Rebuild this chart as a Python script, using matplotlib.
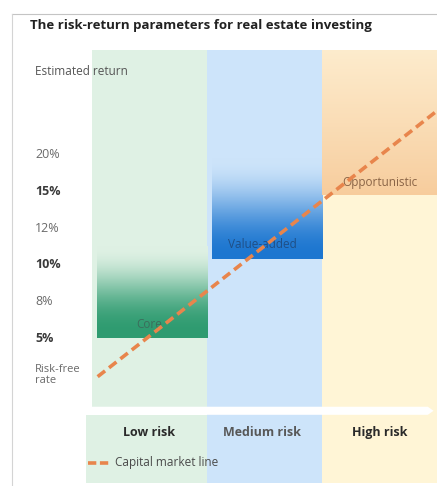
import matplotlib.pyplot as plt
import numpy as np
from matplotlib.colors import to_rgb
from matplotlib.lines import Line2D
from matplotlib.patches import Polygon

plt.rcParams['font.family'] = ['Open Sans', 'DejaVu Sans']

# risk columns and the return scale (one level per label, risk-free rate at 0)
risk_bands = ["Low risk", "Medium risk", "High risk"]
band_colors = ["#dff1e4", "#cde4fa", "#fff5d6"]
return_labels = ["Risk-free\nrate", "5%", "8%", "10%", "12%", "15%", "20%"]
return_bold = [False, True, False, True, False, True, False]
return_levels = [0, 1, 2, 3, 4, 5, 6]

# strategy boxes: floor level, level where the shading has faded out
strategies = ["Core", "Value-added", "Opportunistic"]
strategy_floor = [1.0, 3.15, 4.9]
strategy_fade = [3.5, 5.9, 8.86]
strategy_dark = ["#2e9b70", "#1c76d0", "#f7cc9c"]
strategy_light = ["#dff1e4", "#cde4fa", "#fdeccd"]
strategy_ease = [1.3, 1.1, 0.9]
strategy_text = ["#3b6e5c", "#1f4f86", "#8a6446"]
strategy_label_y = [1.36, 3.55, 5.24]

# capital market line (risk, return level)
cml_risk = [0.05, 3.0]
cml_return = [-0.05, 7.2]

Y_TOP, Y_BOT = 8.86, -2.95
GAP_HI, GAP_LO = -0.87, -1.09

fig = plt.figure(figsize=(4.37, 4.86), dpi=100)
ax = fig.add_axes([85 / 437, 3 / 486, 352 / 437, 433 / 486])
ax.axis("off")

# column backgrounds
for i, c in enumerate(band_colors):
    if i == 0:
        ax.bar(i + 0.5, Y_TOP - GAP_HI, bottom=GAP_HI, width=1, color=c, lw=0)
        ax.bar(i + 0.475, GAP_LO - Y_BOT, bottom=Y_BOT, width=1.05, color=c, lw=0)
    else:
        ax.bar(i + 0.5, Y_TOP - Y_BOT, bottom=Y_BOT, width=1, color=c, lw=0)

# white risk arrow separating the chart from the column captions
arrow = Polygon([(-0.06, GAP_LO), (2.92, GAP_LO), (2.97, (GAP_LO + GAP_HI) / 2),
                 (2.92, GAP_HI), (-0.06, GAP_HI)], closed=True, color="white", lw=0)
ax.add_patch(arrow)

# strategy boxes with vertical fade
n = 200
for i, name in enumerate(strategies):
    t = np.linspace(0, 1, n)
    t = np.sin(t * np.pi / 2) ** 2 if i < 2 else t ** strategy_ease[i]
    t = t ** strategy_ease[i] if i < 2 else t
    dark = np.array(to_rgb(strategy_dark[i]))
    light = np.array(to_rgb(strategy_light[i]))
    grad = dark[None, :] * (1 - t[:, None]) + light[None, :] * t[:, None]
    x0 = i + (0.04 if i < 2 else 0.0)
    ax.imshow(grad[:, None, :], extent=[x0, i + 1, strategy_floor[i], strategy_fade[i]],
              origin="lower", aspect="auto", interpolation="bilinear", zorder=2)
    ax.text(i + 0.5 + (0.0 if i != 1 else -0.02), strategy_label_y[i], name,
            ha="center", va="center", fontsize=8.5, color=strategy_text[i], zorder=4)

ax.set_xlim(-0.06, 3.0)
ax.set_ylim(Y_BOT, Y_TOP)

# capital market line
ax.plot(cml_risk, cml_return, color="#e8854c", lw=2.6, dashes=(2.6, 1.4),
        solid_capstyle="butt", zorder=5)

# return labels on the left
ytr = ax.get_yaxis_transform()
for lvl, lab, b in zip(return_levels, return_labels, return_bold):
    ax.text(-0.142, lvl, lab, transform=ytr, ha="left", va="center",
            fontsize=8 if lvl == 0 else 9, linespacing=0.95,
            fontweight="bold" if b else "normal",
            color="#3a3a3a" if b else "#6a6a6a", clip_on=False)
ax.text(-0.142, 8.26, "Estimated return", transform=ytr, ha="left", va="center",
        fontsize=8.5, color="#555555", clip_on=False)

# column captions
for i, lab in enumerate(risk_bands):
    ax.text(i + 0.5 - (0.02 if i == 1 else 0), -1.58, lab, ha="center", va="center",
            fontsize=9, fontweight="bold", color="#585858" if i == 1 else "#2a2a2a")

# legend
ax.plot([-0.03, 0.16], [-2.4, -2.4], color="#e8854c", lw=2.6, dashes=(2.3, 1.0),
        solid_capstyle="butt")
ax.text(0.2, -2.4, "Capital market line", ha="left", va="center", fontsize=8.5,
        color="#4a4a4a")

fig.text(30 / 437, 1 - 25 / 486, "The risk-return parameters for real estate investing",
         ha="left", va="center", fontsize=9.5, fontweight="bold", color="#222222")

# thin frame along top and left
fig.add_artist(Line2D([12 / 437, 1], [1 - 14 / 486, 1 - 14 / 486], color="#c4c4c4", lw=0.8))
fig.add_artist(Line2D([12 / 437, 12 / 437], [0, 1 - 14 / 486], color="#d4d4d4", lw=0.8))

fig.savefig("out.png", dpi=100)
